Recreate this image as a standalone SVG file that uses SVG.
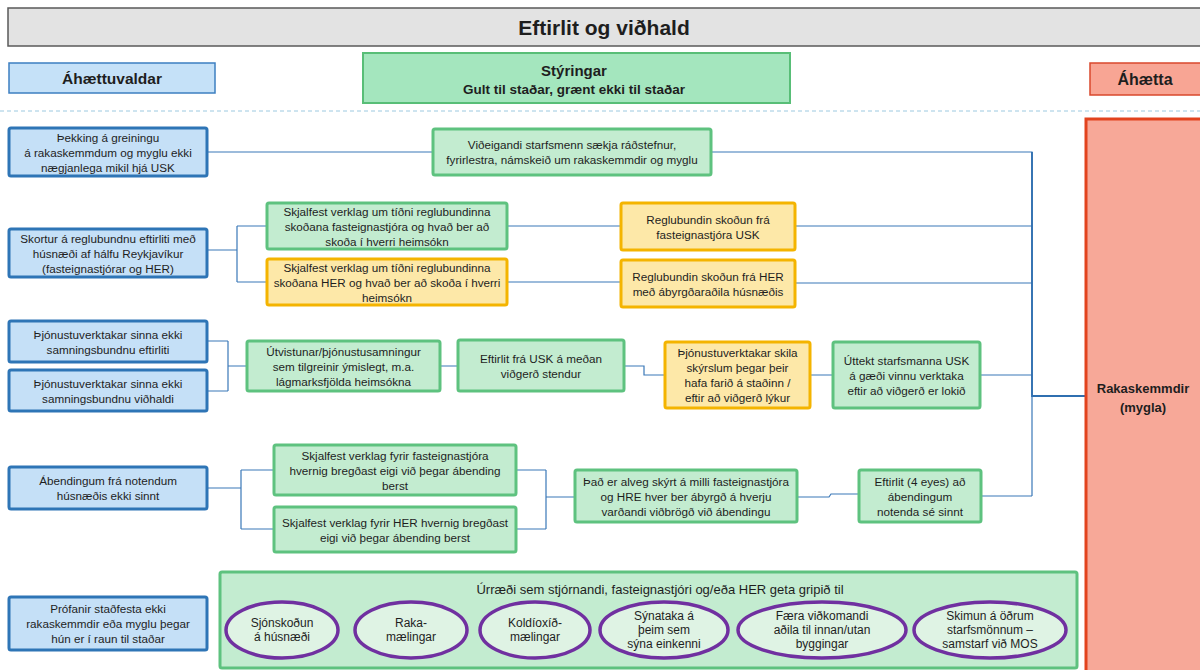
<svg xmlns="http://www.w3.org/2000/svg" width="1200" height="670" viewBox="0 0 1200 670">
<style>
text{font-family:"Liberation Sans",Arial,sans-serif;fill:#1e1e1e;text-anchor:middle;dominant-baseline:central}
.t{font-size:11.7px}
.e{font-size:12px}
.b{font-weight:bold}
.blue{fill:#c5e0f7;stroke:#2e75b6;stroke-width:3}
.green{fill:#c3ecd0;stroke:#5ec27f;stroke-width:3}
.yellow{fill:#fde8a8;stroke:#f4b400;stroke-width:3}
.oval{fill:#dff3e4;stroke:#7030a0;stroke-width:3.5}
.c{fill:none;stroke:#3a78b8;stroke-width:1.2}
</style>
<rect width="1200" height="670" fill="#ffffff"/>
<g id="title">
<rect x="8" y="8" width="1194" height="38" fill="#e3e3e3" stroke="#5a5a5a" stroke-width="1.5"/>
<text x="604" y="27" class="b" style="font-size:21px">Eftirlit og viðhald</text>
</g>
<g id="hdr-ahaettuvaldar">
<rect x="9" y="63" width="206" height="30" fill="#c5e1f8" stroke="#3c7fc1" stroke-width="1.5"/>
<text x="112" y="78" class="b" style="font-size:15.5px">Áhættuvaldar</text>
</g>
<g id="hdr-styringar">
<rect x="363" y="53" width="427" height="50" fill="#a4e6be" stroke="#58be77" stroke-width="2"/>
<text x="574" y="70" class="b" style="font-size:15px">Stýringar</text>
<text x="574" y="89" class="b" style="font-size:13.5px">Gult til staðar, grænt ekki til staðar</text>
</g>
<g id="hdr-ahaetta">
<rect x="1090" y="63" width="112" height="32" fill="#f8a594" stroke="#d9482c" stroke-width="1.5"/>
<text x="1145" y="79" class="b" style="font-size:16px">Áhætta</text>
</g>
<line x1="0" y1="111" x2="1200" y2="111" stroke="#9cc9e0" stroke-width="1" stroke-dasharray="4 3"/>

<g id="connectors">
<path class="c" d="M207,152H433M711,152H1032V496"/>
<path class="c" d="M207,250H237M237,226V282M237,226H267M237,282H267"/>
<path class="c" d="M507,226H621M795,226H1032M507,282H621M795,283H1032"/>
<path class="c" d="M207,341H228M207,391H228M228,341V391M228,366H247M440,366H458"/>
<path class="c" d="M624,366H644V375H665M810,375H833M980,375H1032"/>
<path class="c" d="M207,488H241M241,470V529M241,470H274M241,529H274"/>
<path class="c" d="M516,470H546M516,529H546M546,470V529M546,497H575"/>
<path class="c" d="M797,497H829L831,494H859M981,496H1032"/>
<path d="M1032,152V396H1086" fill="none" stroke="#2f6fb0" stroke-width="1.8"/>
</g>

<g id="risk">
<rect x="1086" y="119" width="124" height="560" fill="#f7a898" stroke="#e2431e" stroke-width="3"/>
<text x="1143" y="388" class="b" style="font-size:13px">Rakaskemmdir</text>
<text x="1143" y="407" class="b" style="font-size:13px">(mygla)</text>
</g>

<g id="b1"><rect class="blue" x="9" y="128" width="198" height="48" rx="2"/>
<text class="t" x="108" y="137">Þekking á greiningu</text><text class="t" x="108" y="152">á rakaskemmdum og myglu ekki</text><text class="t" x="108" y="167">nægjanlega mikil hjá USK</text></g>
<g id="b2"><rect class="blue" x="9" y="229" width="198" height="48" rx="2"/>
<text class="t" x="108" y="238">Skortur á reglubundnu eftirliti með</text><text class="t" x="108" y="253">húsnæði af hálfu Reykjavíkur</text><text class="t" x="108" y="268">(fasteignastjórar og HER)</text></g>
<g id="b3"><rect class="blue" x="9" y="321" width="198" height="41" rx="2"/>
<text class="t" x="108" y="334">Þjónustuverktakar sinna ekki</text><text class="t" x="108" y="349">samningsbundnu eftirliti</text></g>
<g id="b4"><rect class="blue" x="9" y="370" width="198" height="41" rx="2"/>
<text class="t" x="108" y="383">Þjónustuverktakar sinna ekki</text><text class="t" x="108" y="398">samningsbundnu viðhaldi</text></g>
<g id="b5"><rect class="blue" x="9" y="467" width="198" height="42" rx="2"/>
<text class="t" x="108" y="480.5">Ábendingum frá notendum</text><text class="t" x="108" y="495.5">húsnæðis ekki sinnt</text></g>
<g id="b6"><rect class="blue" x="9" y="597" width="198" height="53" rx="2"/>
<text class="t" x="108" y="608.5">Prófanir staðfesta ekki</text><text class="t" x="108" y="623.5">rakaskemmdir eða myglu þegar</text><text class="t" x="108" y="638.5">hún er í raun til staðar</text></g>

<g id="c-vidaeigandi"><rect class="green" x="433" y="129" width="278" height="46" rx="2"/>
<text class="t" x="572" y="144.5">Viðeigandi starfsmenn sækja ráðstefnur,</text><text class="t" x="572" y="159.5">fyrirlestra, námskeið um rakaskemmdir og myglu</text></g>
<g id="c-verklag-fast"><rect class="green" x="267" y="203" width="240" height="46" rx="2"/>
<text class="t" x="387" y="211">Skjalfest verklag um tíðni reglubundinna</text><text class="t" x="387" y="226">skoðana fasteignastjóra og hvað ber að</text><text class="t" x="387" y="241">skoða í hverri heimsókn</text></g>
<g id="c-verklag-her"><rect class="yellow" x="267" y="259" width="240" height="46" rx="2"/>
<text class="t" x="387" y="267">Skjalfest verklag um tíðni reglubundinna</text><text class="t" x="387" y="282">skoðana HER og hvað ber að skoða í hverri</text><text class="t" x="387" y="297">heimsókn</text></g>
<g id="c-skodun-usk"><rect class="yellow" x="621" y="203" width="174" height="47" rx="2"/>
<text class="t" x="708" y="219">Reglubundin skoðun frá</text><text class="t" x="708" y="234">fasteignastjóra USK</text></g>
<g id="c-skodun-her"><rect class="yellow" x="621" y="260" width="174" height="47" rx="2"/>
<text class="t" x="708" y="276">Reglubundin skoðun frá HER</text><text class="t" x="708" y="291">með  ábyrgðaraðila húsnæðis</text></g>
<g id="c-utvistun"><rect class="green" x="247" y="341" width="193" height="50" rx="2"/>
<text class="t" x="343.5" y="351">Útvistunar/þjónustusamningur</text><text class="t" x="343.5" y="366">sem tilgreinir ýmislegt, m.a.</text><text class="t" x="343.5" y="381">lágmarksfjölda heimsókna</text></g>
<g id="c-eftirlit-usk"><rect class="green" x="458" y="340" width="166" height="51" rx="2"/>
<text class="t" x="541" y="358">Eftirlit frá USK á meðan</text><text class="t" x="541" y="373">viðgerð stendur</text></g>
<g id="c-skyrslur"><rect class="yellow" x="665" y="342" width="145" height="66" rx="2"/>
<text class="t" x="737.5" y="352.5">Þjónustuverktakar skila</text><text class="t" x="737.5" y="367.5">skýrslum þegar þeir</text><text class="t" x="737.5" y="382.5">hafa farið á staðinn /</text><text class="t" x="737.5" y="397.5">eftir að viðgerð lýkur</text></g>
<g id="c-uttekt"><rect class="green" x="833" y="342" width="147" height="66" rx="2"/>
<text class="t" x="906.5" y="360">Úttekt  starfsmanna USK</text><text class="t" x="906.5" y="375">á gæði vinnu verktaka</text><text class="t" x="906.5" y="390">eftir að viðgerð er lokið</text></g>
<g id="c-abending-fast"><rect class="green" x="274" y="445" width="242" height="50" rx="2"/>
<text class="t" x="395" y="455">Skjalfest verklag fyrir fasteignastjóra</text><text class="t" x="395" y="470">hvernig bregðast eigi við þegar ábending</text><text class="t" x="395" y="485">berst</text></g>
<g id="c-abending-her"><rect class="green" x="274" y="507" width="242" height="45" rx="2"/>
<text class="t" x="395" y="522">Skjalfest verklag fyrir HER hvernig bregðast</text><text class="t" x="395" y="537">eigi við þegar ábending berst</text></g>
<g id="c-abyrgd"><rect class="green" x="575" y="470" width="222" height="52" rx="2"/>
<text class="t" x="686" y="481">Það er alveg skýrt á milli fasteignastjóra</text><text class="t" x="686" y="496">og HRE hver ber ábyrgð á hverju</text><text class="t" x="686" y="511">varðandi viðbrögð við ábendingu</text></g>
<g id="c-4eyes"><rect class="green" x="859" y="470" width="122" height="52" rx="2"/>
<text class="t" x="920" y="481">Eftirlit (4 eyes) að</text><text class="t" x="920" y="496">ábendingum</text><text class="t" x="920" y="511">notenda sé sinnt</text></g>

<g id="c-urraedi">
<rect class="green" x="220" y="572" width="857" height="96" rx="2"/>
<text x="660" y="589" style="font-size:13px">Úrræði sem stjórnandi, fasteignastjóri og/eða HER geta gripið til</text>
</g>
<g id="o1"><ellipse class="oval" cx="282" cy="630" rx="56" ry="28"/>
<text class="e" x="282" y="623">Sjónskoðun</text><text class="e" x="282" y="637">á húsnæði</text></g>
<g id="o2"><ellipse class="oval" cx="411" cy="630" rx="56" ry="28"/>
<text class="e" x="411" y="623">Raka-</text><text class="e" x="411" y="637">mælingar</text></g>
<g id="o3"><ellipse class="oval" cx="535" cy="630" rx="55" ry="28"/>
<text class="e" x="535" y="623">Koldíoxíð-</text><text class="e" x="535" y="637">mælingar</text></g>
<g id="o4"><ellipse class="oval" cx="664" cy="630" rx="64" ry="28"/>
<text class="e" x="664" y="616">Sýnataka á</text><text class="e" x="664" y="630">þeim sem</text><text class="e" x="664" y="644">sýna einkenni</text></g>
<g id="o5"><ellipse class="oval" cx="822" cy="630" rx="84" ry="28"/>
<text class="e" x="822" y="616">Færa viðkomandi</text><text class="e" x="822" y="630">aðila til innan/utan</text><text class="e" x="822" y="644">byggingar</text></g>
<g id="o6"><ellipse class="oval" cx="990" cy="630" rx="76" ry="28"/>
<text class="e" x="990" y="616">Skimun á öðrum</text><text class="e" x="990" y="630">starfsmönnum –</text><text class="e" x="990" y="644">samstarf við MOS</text></g>
</svg>
